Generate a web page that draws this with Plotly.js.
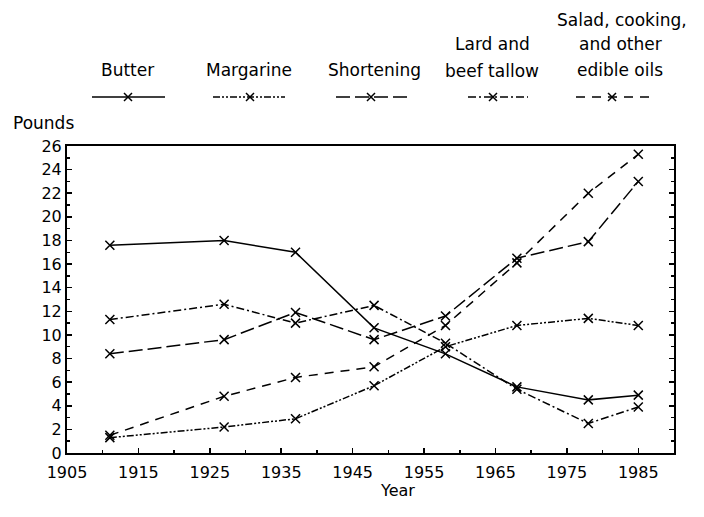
<!DOCTYPE html>
<html>
<head>
<meta charset="utf-8">
<script src="https://cdn.plot.ly/plotly-3.0.1.min.js"></script>
<style>html,body{margin:0;padding:0;background:#fff;}#chart{width:704px;height:517px;}</style>
</head>
<body>
<div id="chart"></div>
<script>
// Data (per capita consumption, pounds)
const years = [1911, 1927, 1937, 1948, 1958, 1968, 1978, 1985];
const butter = [17.6, 18.0, 17.0, 10.6, 8.4, 5.6, 4.5, 4.9];
const margarine = [1.3, 2.2, 2.9, 5.7, 9.0, 10.8, 11.4, 10.8];
const shortening = [8.4, 9.6, 11.9, 9.6, 11.6, 16.5, 17.9, 23.0];
const lard = [11.3, 12.6, 11.0, 12.5, 9.3, 5.4, 2.5, 3.9];
const salad = [1.5, 4.8, 6.4, 7.3, 10.8, 16.1, 22.0, 25.3];
const seriesNames = ["Butter", "Margarine", "Shortening", "Lard and beef tallow", "Salad, cooking, and other edible oils"];
const xTicks = [1905, 1915, 1925, 1935, 1945, 1955, 1965, 1975, 1985];
const yTicks = [0, 2, 4, 6, 8, 10, 12, 14, 16, 18, 20, 22, 24, 26];

const FONT = "DejaVu Sans, Liberation Sans, sans-serif";
const W = 704, H = 517;
const M = {l: 67, r: 30, t: 146, b: 64};
const PW = W - M.l - M.r, PH = H - M.t - M.b;
const px = x => (x - M.l) / PW;
const py = y => (H - M.b - y) / PH;

const dashes = [
  "solid",
  "7px,2px,2px,2px,2px,2px",
  "14px,5px",
  "8px,3px,2px,3px",
  "9px,7px"
];
const allData = [butter, margarine, shortening, lard, salad];

const traces = allData.map((vals, i) => ({
  x: years, y: vals, name: seriesNames[i], type: "scatter", mode: "lines+markers",
  line: {color: "#000", width: 1.5, dash: dashes[i]},
  marker: {symbol: "x-thin-open", size: 9, color: "#000", line: {color: "#000", width: 1.5}},
  showlegend: false, cliponaxis: false
}));

// Legend built from annotations + shapes
const legendItems = [
  {lines: [[127, 70, "Butter"]], x0: 92, x1: 165, xm: 128},
  {lines: [[249, 70, "Margarine"]], x0: 213, x1: 285, xm: 250},
  {lines: [[374, 70, "Shortening"]], x0: 336, x1: 410, xm: 371},
  {lines: [[492, 44, "Lard and"], [492, 71, "beef tallow"]], x0: 468, x1: 528, xm: 493},
  {lines: [[622, 20, "Salad, cooking,"], [620, 44, "and other"], [620, 70, "edible oils"]], x0: 576, x1: 650, xm: 612}
];
const annotations = [];
const shapes = [];
const LY = 97;
legendItems.forEach((it, i) => {
  it.lines.forEach(l => annotations.push({
    xref: "paper", yref: "paper", x: px(l[0]), y: py(l[1]), text: l[2], showarrow: false,
    xanchor: "center", yanchor: "middle", font: {family: FONT, size: 17, color: "#000"}
  }));
  shapes.push({type: "line", xref: "paper", yref: "paper", x0: px(it.x0), x1: px(it.x1), y0: py(LY), y1: py(LY),
    line: {color: "#000", width: 1.5, dash: dashes[i]}});
  const s = 4;
  shapes.push({type: "path", xref: "paper", yref: "paper",
    path: `M${px(it.xm - s)},${py(LY - s)} L${px(it.xm + s)},${py(LY + s)} M${px(it.xm - s)},${py(LY + s)} L${px(it.xm + s)},${py(LY - s)}`,
    line: {color: "#000", width: 1.5}});
});
annotations.push({xref: "paper", yref: "paper", x: px(43), y: py(123), text: "Pounds", showarrow: false,
  xanchor: "center", yanchor: "middle", font: {family: FONT, size: 17, color: "#000"}});
annotations.push({xref: "paper", yref: "paper", x: px(397), y: py(490), text: "Year", showarrow: false,
  xanchor: "center", yanchor: "middle", font: {family: FONT, size: 16, color: "#000"}});

const layout = {
  width: W, height: H, margin: M,
  paper_bgcolor: "#fff", plot_bgcolor: "#fff",
  font: {family: FONT, size: 16, color: "#000"},
  xaxis: {
    range: [1905, 1990], tickvals: xTicks, ticktext: xTicks.map(String),
    ticks: "inside", ticklen: 5, tickwidth: 1.5, tickcolor: "#000", ticklabelstandoff: 4,
    minor: {dtick: 5, tick0: 1905, ticks: "inside", ticklen: 3, tickcolor: "#000"},
    showline: true, linecolor: "#000", linewidth: 2, mirror: true,
    showgrid: false, zeroline: false, tickfont: {family: FONT, size: 16, color: "#000"}
  },
  yaxis: {
    range: [0, 26], tickvals: yTicks, ticktext: yTicks.map(String),
    ticks: "inside", ticklen: 5, tickwidth: 1.5, tickcolor: "#000",
    minor: {dtick: 1, tick0: 0, ticks: "inside", ticklen: 3, tickcolor: "#000"},
    showline: true, linecolor: "#000", linewidth: 2, mirror: "ticks",
    showgrid: false, zeroline: false, tickfont: {family: FONT, size: 16, color: "#000"}
  },
  annotations: annotations,
  shapes: shapes
};

Plotly.newPlot("chart", traces, layout, {displayModeBar: false, staticPlot: true});
</script>
</body>
</html>
